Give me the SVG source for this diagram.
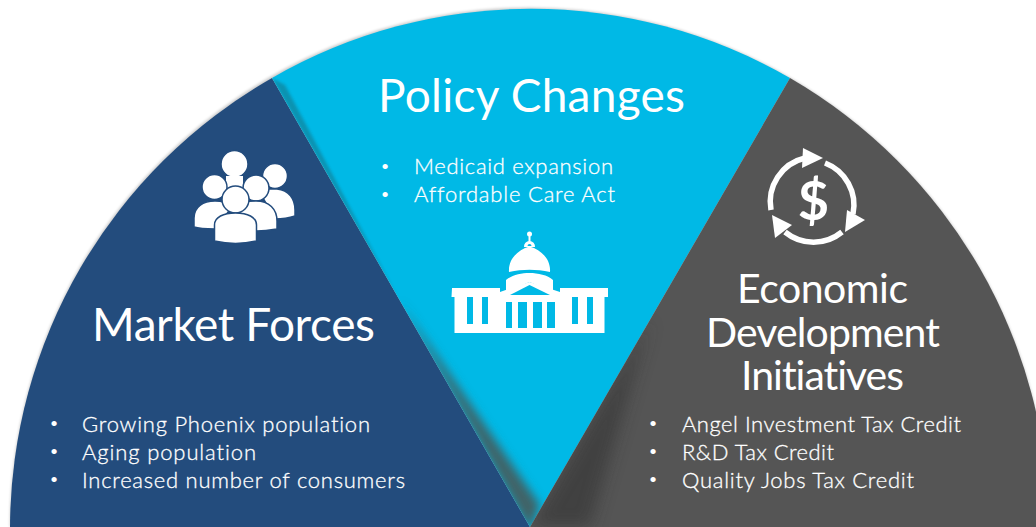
<svg xmlns="http://www.w3.org/2000/svg" width="1036" height="527" viewBox="0 0 1036 527">
<style>
text{font-family:"Lato","Open Sans",sans-serif;fill:#fff;font-variant-ligatures:none}
.h{font-size:46px;font-weight:400}
.e{font-size:41px;font-weight:400}
.b{font-size:22px;font-weight:300;stroke:#fff;stroke-width:.3px}
.d{font-size:14px;text-anchor:middle;font-weight:400}
.i{fill:#fff}
.arc{fill:none;stroke:#fff;stroke-width:5.500}
</style>
<defs>
<filter id="blur" x="-30%" y="-30%" width="160%" height="160%"><feGaussianBlur stdDeviation="5"/></filter>
<filter id="blur2" x="-30%" y="-30%" width="160%" height="160%"><feGaussianBlur stdDeviation="8"/></filter>
<filter id="glow" x="-5%" y="-5%" width="110%" height="110%"><feGaussianBlur stdDeviation="1.500"/></filter>
<clipPath id="cyanClip"><path d="M272 78A519 519 0 0 1 790 78L530 527Z"/></clipPath>
<clipPath id="grayClip"><path d="M790 78A519 519 0 0 1 1049 527H530Z"/></clipPath>
</defs>
<rect width="1036" height="527" fill="#fff"/>
<path d="M10 527A519 519 0 0 1 1049 527Z" fill="#000" opacity=".22" filter="url(#glow)"/>
<g id="market-forces">
<path d="M272 78A519 519 0 0 0 10 527H530Z" fill="#234c7d"/>
</g>
<g id="policy-changes">
<path d="M272 78A519 519 0 0 1 790 78L530 527Z" fill="#00b9e6"/>
<g clip-path="url(#cyanClip)"><path d="M400 302L530 532L540 505Z" fill="#3f6468" filter="url(#blur)"/><path d="M272 78L400 302L285 85Z" fill="#234c50" opacity=".35" filter="url(#glow)"/></g>
</g>
<g id="economic-development">
<path d="M790 78A519 519 0 0 1 1049 527H530Z" fill="#555"/>
<g clip-path="url(#grayClip)"><path d="M650 320L530 527H590Z" fill="#333" opacity=".55" filter="url(#blur2)"/></g>
</g>
<g id="market-forces-content">
<text class="h" x="92" y="341" textLength="283">Market Forces</text>
<text class="d" x="54" y="428">•</text><text class="b" x="82" y="432" textLength="288">Growing Phoenix population</text>
<text class="d" x="54" y="456">•</text><text class="b" x="82" y="460" textLength="174">Aging population</text>
<text class="d" x="54" y="484">•</text><text class="b" x="82" y="488" textLength="323">Increased number of consumers</text>
<g id="people-icon" class="i" stroke="#234c7d" stroke-width="1.500">
<circle cx="275" cy="176" r="12.500"/><path d="M258 189h19c12 1 18 10 18 21v6c-6 2-12 3-20 3z"/>
<circle cx="234.500" cy="164" r="13.500"/><rect x="226" y="176" width="17" height="15" stroke="none"/>
<circle cx="214.500" cy="187" r="12.500"/><path d="M194 227v-9c0-11 9-17 21-17 7 0 13 2 17 6l-17 22c-8 0-15 0-21-2z"/>
<circle cx="256" cy="188" r="13"/><path d="M232 207c5-4 14-6 24-6 13 0 21 8 21 20v8c-6 1-12 2-20 2z"/>
<circle cx="235.500" cy="199.500" r="13.500"/><path d="M214.500 241v-16c0-8 9-12 21-12s21 4 21 12v16c-13 3-29 3-42 0z"/>
</g>
</g>
<g id="policy-changes-content">
<text class="h" x="378" y="112" textLength="307">Policy Changes</text>
<text class="d" x="385" y="171">•</text><text class="b" x="414" y="174" textLength="199">Medicaid expansion</text>
<text class="d" x="385" y="199">•</text><text class="b" x="414" y="202" textLength="201">Affordable Care Act</text>
<g id="capitol-icon" class="i">
<circle cx="529.500" cy="234" r="2.500"/><rect x="528.500" y="236" width="2" height="7"/>
<path fill-rule="evenodd" d="M529.500 241a5.500 5.500 0 0 1 5.500 6h-11a5.500 5.500 0 0 1 5.500-6zM529.500 244a2 2 0 0 0-2 2h4a2 2 0 0 0-2-2z"/>
<path d="M509 272c-1-12 8-22 20.500-25.500 12.500 3.500 21.500 13.500 20.500 25.500-14-3-27-3-41 0z"/>
<path d="M506 292v-12c6-5 15-7 23.500-7 8.500 0 18 2 23.500 7v12l-23.500-10z"/>
<path fill-rule="evenodd" d="M452 288h48v4l29.500-10 30.500 10v-4h48v9h-3.500v36h-150v-36h-3zM467 297v27h6v-27zM482 297v27h6v-27zM506 302v26h6v-26zM518 302v26h9v-26zM533 302v26h9v-26zM547 302v26h8v-26zM572 297v27h6v-27zM587 297v27h6v-27z"/>
<path d="M510 295l19.500-10 20.500 10z" fill="#00b9e6"/>
</g>
</g>
<g id="economic-content">
<text class="e" x="737" y="303" textLength="171">Economic</text>
<text class="e" x="706" y="347" textLength="234">Development</text>
<text class="e" x="741" y="390" textLength="163">Initiatives</text>
<text class="d" x="653" y="428">•</text><text class="b" x="682" y="432" textLength="279">Angel Investment Tax Credit</text>
<text class="d" x="653" y="456">•</text><text class="b" x="682" y="460" textLength="152">R&amp;D Tax Credit</text>
<text class="d" x="653" y="484">•</text><text class="b" x="682" y="488" textLength="232">Quality Jobs Tax Credit</text>
<g id="dollar-icon">
<path class="arc" d="M771 210A45 45 0 0 1 805 158"/>
<path d="M803 148l20 10-21 10z" class="i"/>
<path class="arc" d="M825 163A45 45 0 0 1 853 214"/>
<path d="M865 220l-20 12 2-22z" class="i"/>
<path class="arc" d="M842 232A45 45 0 0 1 785 232"/>
<path d="M772 215l20 10-17 13z" class="i"/>
<text x="813.500" y="220" text-anchor="middle" style="font-size:54px;font-weight:700">$</text>
</g>
</g>
</svg>
